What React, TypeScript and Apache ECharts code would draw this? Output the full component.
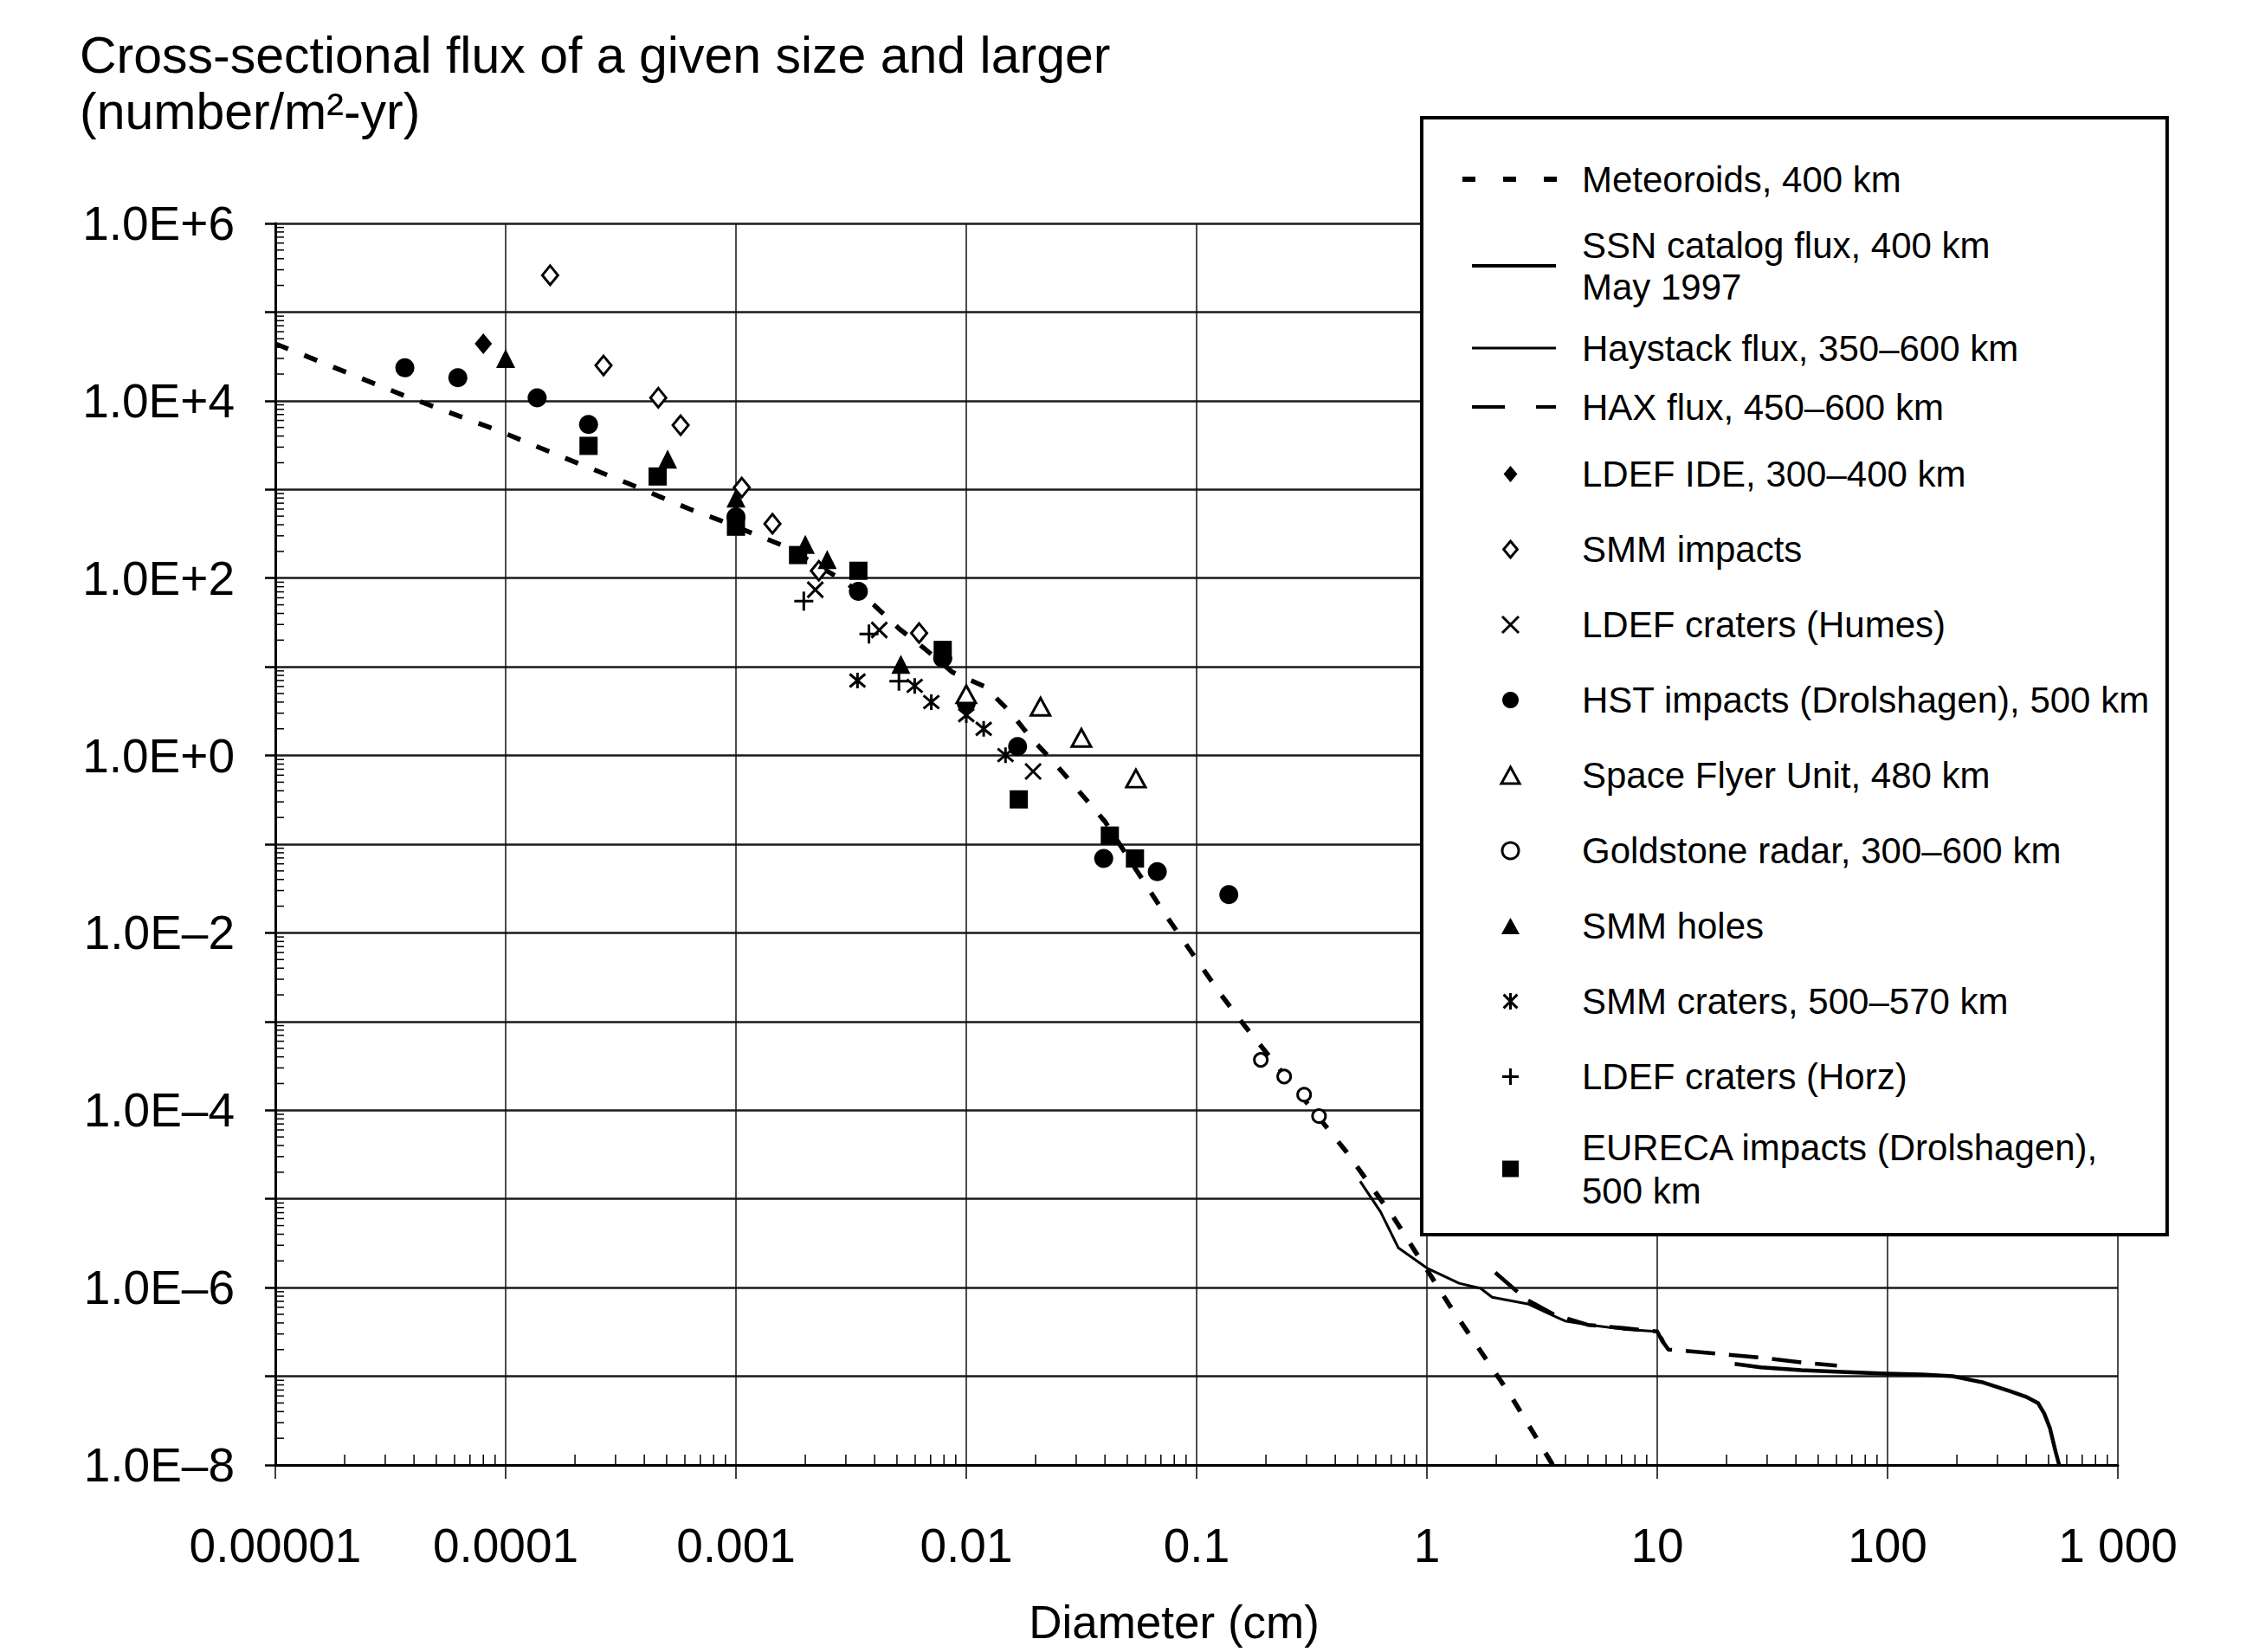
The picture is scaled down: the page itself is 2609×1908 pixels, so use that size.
import React, { useEffect, useRef } from 'react';
import * as echarts from 'echarts';

const FONT = "'Liberation Sans', Arial, Helvetica, sans-serif";

// ---------- axis ticks ----------
const xTickExponents = [-5, -4, -3, -2, -1, 0, 1, 2, 3];
const xTickLabels = ['0.00001', '0.0001', '0.001', '0.01', '0.1', '1', '10', '100', '1 000'];
const yTickExponents = [-8, -6, -4, -2, 0, 2, 4, 6];
const yTickLabels = ['1.0E–8', '1.0E–6', '1.0E–4', '1.0E–2', '1.0E+0', '1.0E+2', '1.0E+4', '1.0E+6'];
const minorMultipliers = [2, 3, 4, 5, 6, 7, 8, 9];
const xMinorDecades = [-5, -4, -3, -2, -1, 0, 1, 2];
const yMinorDecades = [-8, -7, -6, -5, -4, -3, -2, -1, 0, 1, 2, 3, 4, 5];

// ---------- series names ----------
const N_MET = 'Meteoroids, 400 km';
const N_SSN = 'SSN catalog flux, 400 km\nMay 1997';
const N_HAY = 'Haystack flux, 350–600 km';
const N_HAX = 'HAX flux, 450–600 km';
const N_IDE = 'LDEF IDE, 300–400 km';
const N_SMMI = 'SMM impacts';
const N_HUMES = 'LDEF craters (Humes)';
const N_HST = 'HST impacts (Drolshagen), 500 km';
const N_SFU = 'Space Flyer Unit, 480 km';
const N_GOLD = 'Goldstone radar, 300–600 km';
const N_SMMH = 'SMM holes';
const N_SMMC = 'SMM craters, 500–570 km';
const N_HORZ = 'LDEF craters (Horz)';
const N_EUR = 'EURECA impacts (Drolshagen),\n500 km';

// ---------- data: [diameter cm, flux number/m2-yr] ----------
const meteoroids: [number, number][] = [
  [1e-5, 4.4e4], [3.6e-5, 1.15e4], [9.3e-5, 4.6e3], [1.78e-4, 2.3e3], [3.4e-4, 1.17e3],
  [6.3e-4, 6.0e2], [8.5e-4, 4.5e2], [1.62e-3, 2.3e2], [2.95e-3, 93], [4.0e-3, 49],
  [5.1e-3, 27], [6.6e-3, 16], [8.7e-3, 8.7], [1.2e-2, 6.0], [1.55e-2, 3.1],
  [1.9e-2, 1.6], [2.43e-2, 0.81], [3.0e-2, 0.43], [4.0e-2, 0.18], [7.1e-2, 1.8e-2],
  [0.126, 2.1e-3], [0.162, 8.9e-4], [0.447, 3.4e-5], [0.716, 6.2e-6], [1.26, 6.2e-7],
  [2.29, 6.3e-8], [3.52, 1.0e-8],
];
const haystack: [number, number][] = [
  [0.513, 1.58e-5], [0.63, 7.1e-6], [0.752, 2.8e-6], [1.0, 1.66e-6], [1.38, 1.12e-6],
  [1.71, 9.8e-7], [1.92, 7.8e-7], [2.77, 6.5e-7], [3.32, 5.2e-7], [3.98, 4.2e-7],
  [5.07, 3.8e-7], [7.1, 3.4e-7], [9.9, 3.2e-7], [10.5, 2.7e-7], [11.1, 2.0e-7],
];
const hax: [number, number][] = [
  [1.98, 1.48e-6], [2.69, 7.4e-7], [3.55, 5.0e-7], [5.0, 3.8e-7], [7.1, 3.5e-7],
  [10, 3.2e-7], [10.5, 2.5e-7], [11.2, 2.0e-7], [15.8, 1.86e-7], [28.2, 1.62e-7],
  [44.7, 1.41e-7], [60.3, 1.32e-7],
];
const ssn: [number, number][] = [
  [21.7, 1.38e-7], [28.2, 1.26e-7], [42.3, 1.17e-7], [63, 1.12e-7], [98.9, 1.07e-7],
  [141, 1.05e-7], [192, 1.0e-7], [261, 8.5e-8], [339, 6.8e-8], [398, 5.9e-8],
  [450, 5.0e-8], [479, 3.8e-8], [507, 2.6e-8], [537, 1.4e-8], [556, 1.0e-8],
];
const ldefIde: [number, number][] = [[8.0e-5, 4.4e4]];
const smmImpacts: [number, number][] = [
  [1.56e-4, 2.6e5], [2.66e-4, 2.5e4], [4.6e-4, 1.08e4], [5.75e-4, 5.3e3],
  [1.06e-3, 1.05e3], [1.44e-3, 4.1e2], [2.29e-3, 1.21e2], [6.24e-3, 24],
];
const ldefHumes: [number, number][] = [[2.21e-3, 74], [4.19e-3, 26], [1.95e-2, 0.66]];
const hstImpacts: [number, number][] = [
  [3.65e-5, 2.35e4], [6.2e-5, 1.82e4], [1.37e-4, 1.08e4], [2.29e-4, 5.4e3],
  [1.0e-3, 4.9e2], [3.4e-3, 71], [7.9e-3, 12.5], [1.0e-2, 3.9], [1.67e-2, 1.26],
  [3.95e-2, 0.069], [6.75e-2, 0.049], [0.138, 0.027],
];
const spaceFlyer: [number, number][] = [[1.0e-2, 4.9], [2.1e-2, 3.55], [3.16e-2, 1.58], [5.45e-2, 0.55]];
const goldstone: [number, number][] = [[0.19, 3.7e-4], [0.24, 2.4e-4], [0.293, 1.5e-4], [0.34, 8.6e-5]];
const smmHoles: [number, number][] = [
  [1.0e-4, 3.0e4], [5.05e-4, 2.2e3], [1.0e-3, 8.0e2], [2.0e-3, 2.4e2], [2.49e-3, 1.62e2], [5.2e-3, 10.7],
];
const smmCraters: [number, number][] = [
  [3.37e-3, 7.0], [5.97e-3, 6.1], [7.05e-3, 4.0], [1.0e-2, 2.85], [1.19e-2, 2.0], [1.48e-2, 1.01],
];
const ldefHorz: [number, number][] = [[1.97e-3, 55], [3.78e-3, 23.5], [5.1e-3, 6.9]];
const eureca: [number, number][] = [
  [2.29e-4, 3.1e3], [4.57e-4, 1.4e3], [1.0e-3, 3.8e2], [1.86e-3, 1.82e2], [3.4e-3, 1.21e2],
  [7.9e-3, 15.5], [1.69e-2, 0.32], [4.2e-2, 0.125], [5.4e-2, 0.069],
];

// ---------- symbols ----------
const SYM_X = 'path://M0,0L10,10M10,0L0,10';
const SYM_PLUS = 'path://M5,0L5,10M0,5L10,5';
const SYM_STAR = 'path://M0,0L10,10M10,0L0,10M5,-1L5,11';
const SYM_DIAMOND = 'path://M5,0L10,6L5,12L0,6Z';
const SYM_TRIANGLE = 'path://M5,0L10,9L0,9Z';
const SYM_SQUARE = 'path://M0,0h10v10h-10z';

const ICON_MET = 'path://M0,0M111,16M0,5h15v6h-15zM47,5h15v6h-15zM94,5h15v6h-15z';
const ICON_SSN = 'path://M0,0M111,16M11,6h97v4h-97z';
const ICON_HAY = 'path://M0,0M111,16M11,6.5h97v3h-97z';
const ICON_HAX = 'path://M0,0M111,16M11,6h38v4h-38zM85,6h23v4h-23z';

function lineSeries(name: string, data: [number, number][], width: number, type: any) {
  return {
    type: 'line', name, data, symbol: 'none', showSymbol: false, clip: true, z: 2,
    color: '#000', itemStyle: { color: '#000' },
    lineStyle: { color: '#000', width, type, cap: 'butt', join: 'round', opacity: 1 },
  };
}
function scatterSeries(name: string, data: [number, number][], symbol: string, size: number | number[], itemStyle: any) {
  return { type: 'scatter', name, data, symbol, symbolSize: size, z: 3, color: '#000', itemStyle: { ...itemStyle, opacity: 1 } };
}

export default function App() {
  const ref = useRef<HTMLDivElement>(null);
  useEffect(() => {
    if (!ref.current) return;
    const chart = echarts.init(ref.current, undefined, { renderer: 'svg' });

    const xMinor: number[][] = [];
    xMinorDecades.forEach((d) => minorMultipliers.forEach((m) => xMinor.push([m * Math.pow(10, d), 1e-8])));
    const yMinor: number[][] = [];
    yMinorDecades.forEach((d) => minorMultipliers.forEach((m) => yMinor.push([1e-5, m * Math.pow(10, d)])));

    const stroke3 = { color: '#000', borderColor: '#000', borderWidth: 3 };
    const open3 = { color: '#fff', borderColor: '#000', borderWidth: 3 };
    const filled = { color: '#000', borderWidth: 0 };

    chart.setOption({
      animation: false,
      backgroundColor: '#fff',
      textStyle: { fontFamily: FONT, color: '#000' },
      title: {
        text: 'Cross-sectional flux of a given size and larger\n(number/m²-yr)',
        left: 92, top: 31, padding: 0,
        textStyle: { fontSize: 59, lineHeight: 65, fontWeight: 'normal', color: '#000', fontFamily: FONT },
      },
      grid: { left: 318, right: 163, top: 258, bottom: 216, containLabel: false, outerBoundsMode: 'none', show: false },
      xAxis: {
        type: 'log', logBase: 10, min: 1e-5, max: 1000, interval: 1,
        axisLine: { show: true, onZero: false, lineStyle: { color: '#000', width: 3 } },
        axisTick: { show: true, inside: false, length: 16, lineStyle: { color: '#000', width: 1.5 } },
        axisLabel: {
          margin: 65, fontSize: 55, color: '#000', fontFamily: FONT,
          formatter: (v: number) => {
            const i = xTickExponents.indexOf(Math.round(Math.log10(v)));
            return i >= 0 ? xTickLabels[i] : '';
          },
        },
        splitLine: { show: true, lineStyle: { color: '#111', width: 1.5 } },
        name: 'Diameter (cm)', nameLocation: 'middle', nameGap: 159,
        nameTextStyle: { fontSize: 53, lineHeight: 44, color: '#000', fontFamily: FONT, padding: [0, 52, 0, 0] },
      },
      yAxis: {
        type: 'log', logBase: 10, min: 1e-8, max: 1e6, interval: 1,
        axisLine: { show: true, onZero: false, lineStyle: { color: '#000', width: 3 } },
        axisTick: { show: true, inside: false, length: 12, lineStyle: { color: '#000', width: 2.5 } },
        axisLabel: {
          margin: 47, fontSize: 55, color: '#000', fontFamily: FONT,
          formatter: (v: number) => {
            const i = yTickExponents.indexOf(Math.round(Math.log10(v)));
            return i >= 0 ? yTickLabels[i] : '';
          },
        },
        splitLine: { show: true, lineStyle: { color: '#1a1a1a', width: 2.5 } },
      },
      legend: {
        orient: 'vertical', left: 1642, top: 136,
        padding: [45, 20, 26, 47], itemGap: 26, itemWidth: 111, itemHeight: 19,
        backgroundColor: '#fff', borderColor: '#000', borderWidth: 4, borderRadius: 0,
        selectedMode: false, z: 10,
        textStyle: { fontSize: 42, lineHeight: 61, color: '#000', fontFamily: FONT, padding: [0, 0, 0, 22] },
        data: [
          { name: N_MET, icon: ICON_MET, itemStyle: { borderWidth: 0 }, textStyle: { lineHeight: 52 } },
          { name: N_SSN, icon: ICON_SSN, itemStyle: { borderWidth: 0 }, textStyle: { lineHeight: 48 } },
          { name: N_HAY, icon: ICON_HAY, itemStyle: { borderWidth: 0 }, textStyle: { lineHeight: 42 } },
          { name: N_HAX, icon: ICON_HAX, itemStyle: { borderWidth: 0 }, textStyle: { lineHeight: 42 } },
          { name: N_IDE, icon: SYM_DIAMOND, itemStyle: { borderWidth: 0 } },
          { name: N_SMMI, icon: SYM_DIAMOND, itemStyle: { borderWidth: 3 } },
          { name: N_HUMES, itemStyle: { borderWidth: 3 } },
          { name: N_HST },
          { name: N_SFU, icon: SYM_TRIANGLE, itemStyle: { borderWidth: 3 } },
          { name: N_GOLD, itemStyle: { borderWidth: 3 } },
          { name: N_SMMH, icon: SYM_TRIANGLE, itemStyle: { borderWidth: 0 } },
          { name: N_SMMC, itemStyle: { borderWidth: 3 } },
          { name: N_HORZ, itemStyle: { borderWidth: 3 } },
          { name: N_EUR, icon: SYM_SQUARE, itemStyle: { borderWidth: 0 }, textStyle: { lineHeight: 50 } },
        ],
      },
      series: [
        {
          type: 'custom', name: 'x minor ticks', silent: true, clip: false, z: 5, data: xMinor,
          renderItem: (_p: any, api: any) => {
            const pt = api.coord([api.value(0), api.value(1)]);
            return { type: 'line', shape: { x1: pt[0], y1: pt[1], x2: pt[0], y2: pt[1] - 12 }, style: { stroke: '#000', lineWidth: 1.5 } };
          },
        },
        {
          type: 'custom', name: 'y minor ticks', silent: true, clip: false, z: 5, data: yMinor,
          renderItem: (_p: any, api: any) => {
            const pt = api.coord([api.value(0), api.value(1)]);
            return { type: 'line', shape: { x1: pt[0], y1: pt[1], x2: pt[0] + 10, y2: pt[1] }, style: { stroke: '#000', lineWidth: 1.5 } };
          },
        },
        lineSeries(N_MET, meteoroids, 5.5, [16, 20]),
        lineSeries(N_SSN, ssn, 4.5, 'solid'),
        lineSeries(N_HAY, haystack, 3, 'solid'),
        lineSeries(N_HAX, hax, 4.5, [34, 16]),
        scatterSeries(N_IDE, ldefIde, 'diamond', [20, 24], filled),
        scatterSeries(N_SMMI, smmImpacts, 'diamond', [18, 22], open3),
        scatterSeries(N_HUMES, ldefHumes, SYM_X, 18, stroke3),
        scatterSeries(N_HST, hstImpacts, 'circle', 22, filled),
        scatterSeries(N_SFU, spaceFlyer, 'triangle', [22, 20], open3),
        scatterSeries(N_GOLD, goldstone, 'circle', 15, open3),
        scatterSeries(N_SMMH, smmHoles, 'triangle', [22, 22], filled),
        scatterSeries(N_SMMC, smmCraters, SYM_STAR, 18, stroke3),
        scatterSeries(N_HORZ, ldefHorz, SYM_PLUS, 22, stroke3),
        scatterSeries(N_EUR, eureca, 'rect', 21, filled),
      ],
    });
    return () => chart.dispose();
  }, []);
  return (
    <div
      ref={ref}
      style={{ position: 'fixed', left: 0, top: 0, width: 2609, height: 1908, background: '#fff' }}
    />
  );
}
